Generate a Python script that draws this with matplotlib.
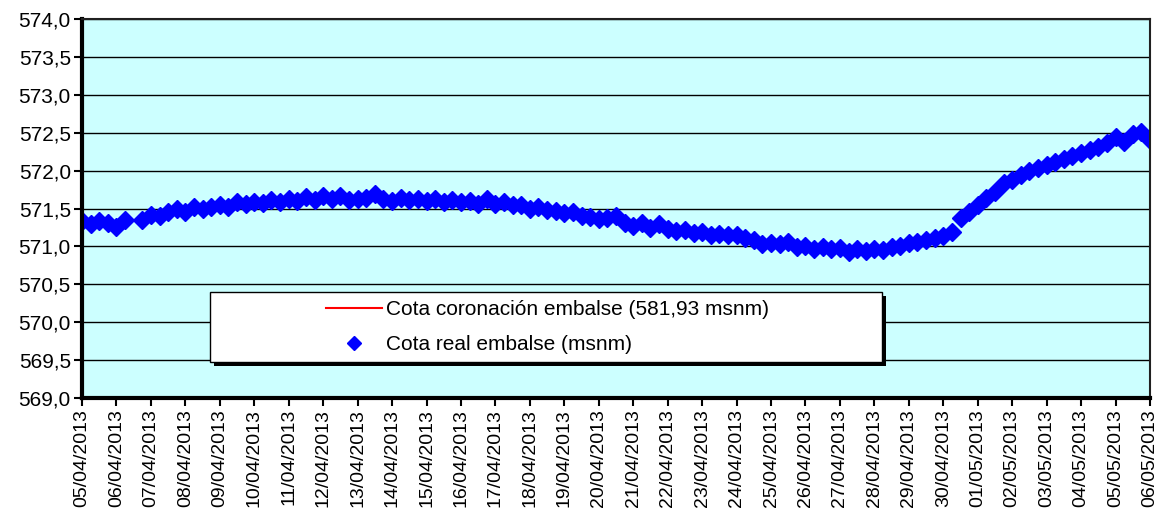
import numpy as np
import pandas as pd
import matplotlib
matplotlib.use("Agg")
import matplotlib.pyplot as plt
import matplotlib.dates as mdates
from matplotlib.patches import Rectangle

plt.rcParams['font.family'] = ['Liberation Sans', 'DejaVu Sans']

# 6-hourly readings, 05/04/2013 00h -> 06/05/2013 00h
start = "2013-04-05"
n_points = 125
cota_real = [
    571.33, 571.29, 571.34, 571.31, 571.26, 571.35, np.nan, 571.35,
    571.42, 571.40, 571.46, 571.49, 571.46, 571.52, 571.49, 571.52,
    571.55, 571.52, 571.58, 571.56, 571.59, 571.57, 571.61, 571.58,
    571.63, 571.60, 571.65, 571.61, 571.66, 571.62, 571.66, 571.61,
    571.62, 571.64, 571.69, 571.63, 571.60, 571.64, 571.61, 571.63,
    571.60, 571.62, 571.58, 571.61, 571.58, 571.60, 571.56, 571.62,
    571.56, 571.58, 571.54, 571.55, 571.50, 571.52, 571.48, 571.47,
    571.44, 571.45, 571.40, 571.39, 571.36, 571.38, 571.40, 571.31,
    571.27, 571.31, 571.24, 571.30, 571.23, 571.20, 571.21, 571.18,
    571.19, 571.15, 571.17, 571.15, 571.15, 571.11, 571.08, 571.03,
    571.05, 571.03, 571.06, 570.99, 571.01, 570.97, 570.99, 570.96,
    570.98, 570.93, 570.97, 570.94, 570.97, 570.95, 570.99, 571.01,
    571.04, 571.06, 571.09, 571.11, 571.14, 571.19, 571.38, 571.46,
    571.55, 571.64, 571.72, 571.83, 571.88, 571.94, 571.99, 572.03,
    572.07, 572.11, 572.15, 572.19, 572.23, 572.27, 572.31, 572.37,
    572.44, 572.38, 572.48, 572.51, 572.40,
]
cota_coronacion = 581.93
y_ticks = np.arange(569.0, 574.01, 0.5)

label_coronacion = "Cota coronación embalse (581,93 msnm)"
label_real = "Cota real embalse (msnm)"

times = pd.date_range(start, periods=n_points, freq="6h")
days = pd.date_range(start, "2013-05-06", freq="D")

fig = plt.figure(figsize=(11.57, 5.19), dpi=100)
ax = fig.add_axes([82 / 1157, 121 / 519, 1068 / 1157, 379 / 519])
ax.set_facecolor("#CCFFFF")

ax.plot(times, [cota_coronacion] * n_points, color="#FF0000", lw=1.5,
        label=label_coronacion)
ax.plot(times, cota_real, ls="none", marker="D", ms=9.5, color="#0000FF",
        mec="#0000FF", label=label_real)

ax.set_ylim(569.0, 574.0)
ax.set_yticks(y_ticks)
ax.set_yticklabels([f"{v:.1f}".replace(".", ",") for v in y_ticks])
ax.set_xlim(days[0], days[-1])
ax.set_xticks(days)
ax.xaxis.set_major_formatter(mdates.DateFormatter("%d/%m/%Y"))
plt.setp(ax.get_xticklabels(), rotation=90)
ax.tick_params(axis="both", length=6, width=1.5, color="black",
               direction="out", pad=2)
ax.tick_params(axis="y", labelsize=15)
ax.tick_params(axis="x", labelsize=14)

ax.grid(axis="y", color="black", lw=1)
ax.set_axisbelow(True)
for side in ["left", "bottom"]:
    ax.spines[side].set_linewidth(3)
for side in ["top", "right"]:
    ax.spines[side].set_linewidth(1.5)
    ax.spines[side].set_color("#202020")

# legend box with shadow
bx, by, bw, bh = 0.12, 0.095, 0.629, 0.185
ax.add_patch(Rectangle((bx + 0.004, by - 0.01), bw, bh, transform=ax.transAxes,
                       facecolor="black", edgecolor="none", zorder=5))
ax.add_patch(Rectangle((bx, by), bw, bh, transform=ax.transAxes,
                       facecolor="white", edgecolor="black", lw=1, zorder=6))
leg = ax.legend(loc="center", bbox_to_anchor=(0.436, 0.187), frameon=False,
                fontsize=15, handlelength=2.7, handletextpad=0.2,
                labelspacing=0.75, numpoints=1, markerscale=0.75)
leg.set_zorder(7)

fig.savefig("out.png", dpi=100)
